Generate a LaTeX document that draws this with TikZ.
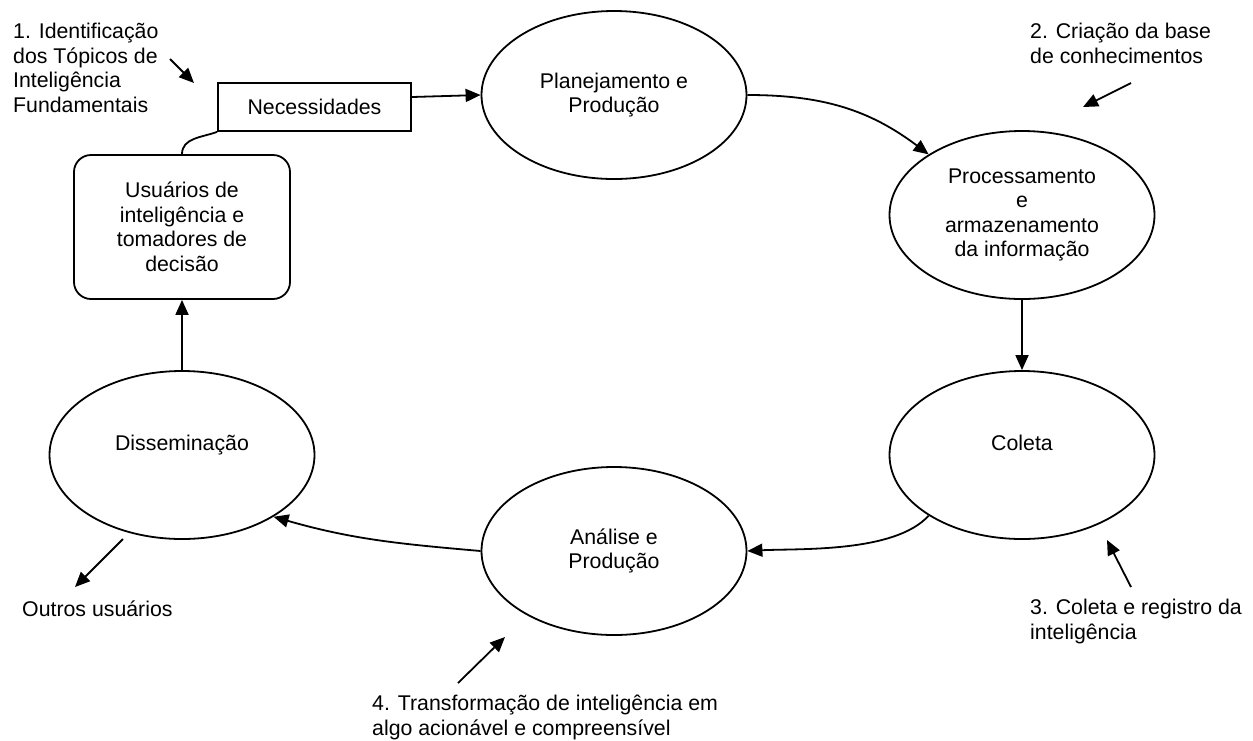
\documentclass[tikz,border=0pt]{standalone}
\usepackage{fontspec}
\setmainfont{Liberation Sans}
\usetikzlibrary{shapes.geometric,arrows.meta,calc}
\begin{document}
\begin{tikzpicture}[x=1pt,y=-1pt,
  every node/.style={font=\fontsize{21.3}{24.5}\selectfont},
  line/.style={line width=1.8pt},
  arr/.style={line,-{Triangle[length=15pt,width=13pt]}},
  stage/.style={ellipse,draw,line width=1.8pt,minimum width=265pt,
    minimum height=168pt,inner sep=0pt,align=center},
  boxnode/.style={draw,line width=1.8pt,inner sep=0pt,align=center},
  note/.style={anchor=north west,inner sep=0pt,align=left,
    execute at begin node=\rule{0pt}{17pt}}
]
\useasboundingbox (0,0) rectangle (1253,740);

% cycle stages
\node[stage] (plan) at (614,95) {Planejamento e\\Produção};
\node[stage] (proc) at (1022,215) {Processamento\\e\\armazenamento\\da informação};
\node[stage] (col) at (1022,455) {Coleta\\\mbox{}};
\node[stage] (ana) at (614,551) {Análise e\\Produção};
\node[stage] (dis) at (182,455) {Disseminação\\\mbox{}};

% users and needs
\node[boxnode,rounded corners=17pt,minimum width=216pt,minimum height=144pt]
  (usr) at (182,227) {Usuários de\\inteligência e\\tomadores de\\decisão};
\node[boxnode,minimum width=193pt,minimum height=48pt]
  (nec) at (314.5,107) {Necessidades};

% cycle connectors
\draw[line] (usr.north) to[out=90,in=200] (nec.south west);
\draw[arr] ($(nec.east)+(0,-10)$) -- (plan.west);
\draw[arr] (plan.east) to[out=0,in=143] (proc.147);
\draw[arr] (proc.south) -- (col.north);
\draw[arr] (col.213) to[out=228,in=3,looseness=0.7] (ana.east);
\draw[arr] (ana.west) to[out=175,in=-16] (dis.-34);
\draw[arr] (dis.north) -- (usr.south);

% step annotations
\node[note] (t1) at (13,23) {1. Identificação\\dos Tópicos de\\Inteligência\\Fundamentais};
\node[note] (t2) at (1030,23) {2. Criação da base\\de conhecimentos};
\node[note] (t3) at (1030,599) {3. Coleta e registro da\\inteligência};
\node[note] (t4) at (372,695) {4. Transformação de inteligência em\\algo acionável e compreensível};
\node[note] (t5) at (22,599) {Outros usuários};

\coordinate (a1s) at (170,59);   \coordinate (a1e) at (194,83);
\coordinate (a2s) at (1131,83);  \coordinate (a2e) at (1083,107);
\coordinate (a3s) at (1131,587); \coordinate (a3e) at (1107,540);
\coordinate (a4s) at (458,683);  \coordinate (a4e) at (505,637);
\coordinate (a5s) at (123,539);  \coordinate (a5e) at (75,587);

\draw[arr] (a1s) -- (a1e);
\draw[arr] (a2s) -- (a2e);
\draw[arr] (a3s) -- (a3e);
\draw[arr] (a4s) -- (a4e);
\draw[arr] (a5s) -- (a5e);
\end{tikzpicture}
\end{document}
